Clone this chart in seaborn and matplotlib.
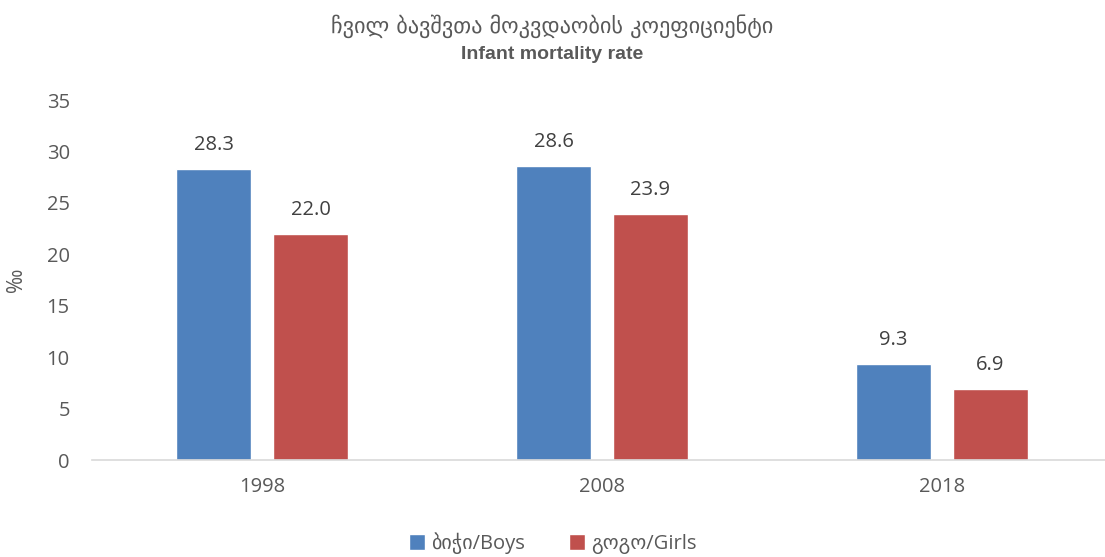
import pandas as pd
import matplotlib
matplotlib.use('Agg')
import matplotlib.pyplot as plt
import seaborn as sns

# chart data
YEARS = ['1998', '2008', '2018']
BOYS = [28.3, 28.6, 9.3]
GIRLS = [22.0, 23.9, 6.9]
SERIES = ['ბიჭი/Boys', 'გოგო/Girls']
Y_TICKS = [0, 5, 10, 15, 20, 25, 30, 35]

sns.set_theme(style='white')
plt.rcParams['font.family'] = ['Open Sans', 'DejaVu Sans']

df = pd.DataFrame({
    'year': YEARS * 2,
    'value': BOYS + GIRLS,
    'sex': [SERIES[0]] * len(YEARS) + [SERIES[1]] * len(YEARS),
})

fig = plt.figure(figsize=(11.05, 5.57), dpi=100)
ax = fig.add_axes([92 / 1105, 97 / 557, 1013 / 1105, 360 / 557])

sns.barplot(data=df, x='year', y='value', hue='sex', order=YEARS, hue_order=SERIES,
            palette=['#4F81BD', '#C0504D'], width=0.57, gap=0.22, ax=ax,
            saturation=1, legend=True)

for cont in ax.containers:
    ax.bar_label(cont, fmt='%.1f', padding=10, fontsize=14.5, color='#404040')

ax.set_xlim(-0.5, -0.5 + 1013 / 340)
ax.set_ylim(0, 35)
ax.set_yticks(Y_TICKS)
ax.set_xlabel('')
ax.set_ylabel('‰', fontsize=15, color='#595959', labelpad=14)
ax.tick_params(axis='both', labelsize=14.5, colors='#595959', length=0)
ax.tick_params(axis='x', pad=12)
ax.tick_params(axis='y', pad=16)
for s in ['top', 'right', 'left']:
    ax.spines[s].set_visible(False)
ax.spines['bottom'].set_color('#D9D9D9')
ax.spines['bottom'].set_linewidth(1.2)

fig.text(0.5, 0.953, 'ჩვილ ბავშვთა მოკვდაობის კოეფიციენტი', ha='center', va='center',
         fontsize=16, color='#595959', family=['DejaVu Sans'])
fig.text(0.5, 0.902, 'Infant mortality rate', ha='center', va='center', fontsize=14,
         fontweight='bold', color='#595959', family=['Liberation Sans', 'DejaVu Sans'])

handles, labels = ax.get_legend_handles_labels()
ax.legend(handles, labels, loc='center', bbox_to_anchor=(0.5, 0.025), bbox_transform=fig.transFigure,
          ncol=2, frameon=False, fontsize=14.5, handlelength=0.8, handleheight=0.8,
          handletextpad=0.3, columnspacing=2.2, labelcolor='#595959')

fig.savefig('out.png', dpi=100)
